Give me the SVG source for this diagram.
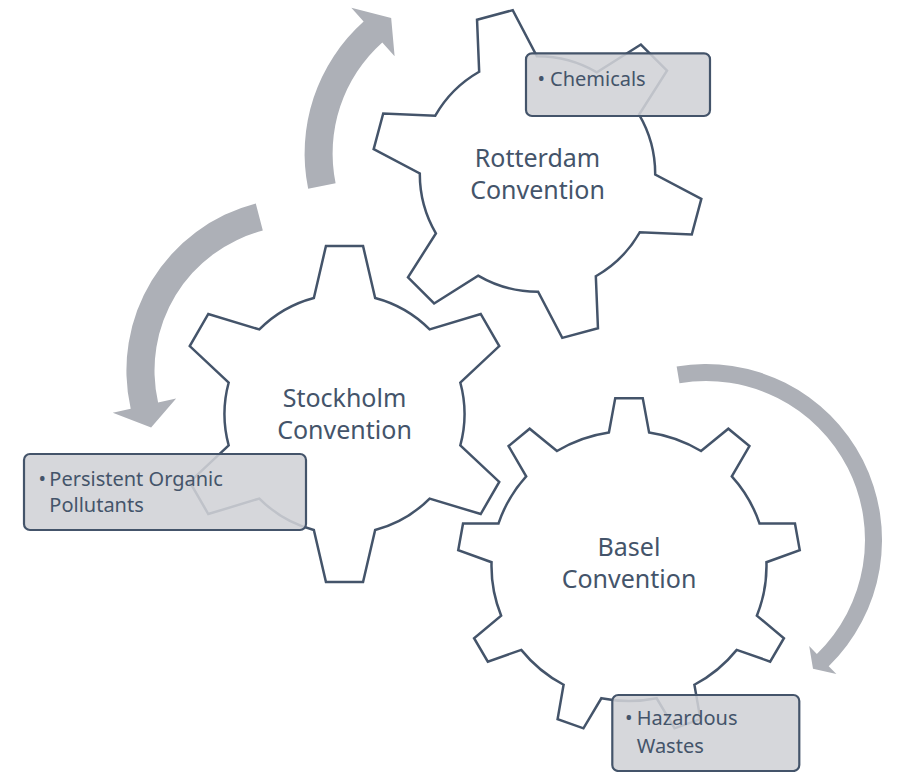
<svg xmlns="http://www.w3.org/2000/svg" width="897" height="772" viewBox="0 0 897 772">
<style>
.gear{fill:#ffffff;stroke:#44546a;stroke-width:2.5;stroke-linejoin:miter}
.arrow{fill:#adb0b7}
.box{fill:#d0d2d6;fill-opacity:0.88;stroke:#44546a;stroke-width:2.2}
.gt{font-family:"Noto Sans","Open Sans",sans-serif;font-size:25px;fill:#44546a;text-anchor:middle}
.lt{font-family:"Noto Sans","Open Sans",sans-serif;font-size:20px;fill:#44546a}
</style>
<rect width="897" height="772" fill="#ffffff"/>
<g id="node-rotterdam">
<path class="gear" d="M 479.18 71.77 L 477.04 19.72 L 512.73 10.16 L 536.89 56.3 A 117.7 117.7 0 0 1 596.88 72.38 L 640.88 44.5 L 667.0 70.62 L 639.12 114.62 A 117.7 117.7 0 0 1 655.2 174.61 L 701.34 198.77 L 691.78 234.46 L 639.73 232.32 A 117.7 117.7 0 0 1 595.82 276.23 L 597.96 328.28 L 562.27 337.84 L 538.11 291.7 A 117.7 117.7 0 0 1 478.12 275.62 L 434.12 303.5 L 408.0 277.38 L 435.88 233.38 A 117.7 117.7 0 0 1 419.8 173.39 L 373.66 149.23 L 383.22 113.54 L 435.27 115.68 A 117.7 117.7 0 0 1 479.18 71.77 Z"/>
<text class="gt" x="537.5" y="167">Rotterdam</text>
<text class="gt" x="537.5" y="199">Convention</text>
</g>
<g id="node-stockholm">
<path class="gear" d="M 313.85 298 L 325.96 246.01 L 363.04 246.01 L 375.15 298 A 120 120 0 0 1 429.65 329.45 L 480.7 313.95 L 499.25 346.08 L 460.3 382.54 A 120 120 0 0 1 460.3 445.46 L 499.25 481.92 L 480.7 514.05 L 429.65 498.55 A 120 120 0 0 1 375.15 530 L 363.04 581.99 L 325.96 581.99 L 313.85 530 A 120 120 0 0 1 259.35 498.55 L 208.3 514.05 L 189.75 481.92 L 228.7 445.46 A 120 120 0 0 1 228.7 382.54 L 189.75 346.08 L 208.3 313.95 L 259.35 329.45 A 120 120 0 0 1 313.85 298 Z"/>
<text class="gt" x="344.5" y="406.7">Stockholm</text>
<text class="gt" x="344.5" y="439">Convention</text>
</g>
<g id="node-basel">
<path class="gear" d="M 608.91 432.44 L 615.25 398.14 L 642.75 398.14 L 649.09 432.44 A 137.5 135 0 0 1 701.05 451.02 L 728.35 428.74 L 749.43 446.10 L 731.82 476.37 A 137.5 135 0 0 1 759.47 523.39 L 794.96 523.55 L 799.75 550.15 L 766.45 562.23 A 137.5 135 0 0 1 756.85 615.69 L 783.92 638.23 L 770.16 661.62 L 736.76 649.85 A 137.5 135 0 0 1 694.40 684.75 L 700.40 719.11 L 674.55 728.35 L 656.65 698.25 A 137.5 135 0 0 1 601.35 698.25 L 583.45 728.35 L 557.60 719.11 L 563.60 684.75 A 137.5 135 0 0 1 521.24 649.85 L 487.84 661.62 L 474.08 638.23 L 501.15 615.69 A 137.5 135 0 0 1 491.55 562.23 L 458.25 550.15 L 463.04 523.55 L 498.53 523.39 A 137.5 135 0 0 1 526.18 476.37 L 508.57 446.10 L 529.65 428.74 L 556.95 451.02 A 137.5 135 0 0 1 608.91 432.44 Z"/>
<text class="gt" x="629" y="555.7">Basel</text>
<text class="gt" x="629" y="587.7">Convention</text>
</g>
<g id="connectors">
<path id="arrow-rotterdam" class="arrow" d="M 308.16 188.79 A 177 177 0 0 1 363.63 21.55 L 351.3 7.75 L 391.17 17.88 L 394.62 56.21 L 382.29 42.42 A 149 149 0 0 0 335.6 183.21 Z"/>
<path id="arrow-stockholm" class="arrow" d="M 255.78 203.4 A 172.6 172.6 0 0 0 130.7 408.73 L 112.76 412.81 L 151.12 427.56 L 176.14 398.41 L 158.1 402.51 A 144.5 144.5 0 0 1 262.82 230.61 Z"/>
<path id="arrow-basel" class="arrow" d="M 676.64 366.46 A 176 176 0 0 1 828.71 666.17 L 836.38 674.06 L 813.0 668.87 L 809.19 646.1 L 816.85 653.99 A 159 159 0 0 0 679.48 383.23 Z"/>
</g>
<g id="label-chemicals">
<rect class="box" x="526" y="53.3" width="184" height="62.7" rx="6"/>
<text class="lt" x="537.5" y="85.5">•<tspan x="550">Chemicals</tspan></text>
</g>
<g id="label-pops">
<rect class="box" x="24" y="454" width="282" height="76" rx="6"/>
<text class="lt" x="38.5" y="485.6">•<tspan x="49.3">Persistent Organic</tspan></text>
<text class="lt" x="49.3" y="512.2">Pollutants</text>
</g>
<g id="label-hazardous">
<rect class="box" x="612.3" y="695" width="187" height="76" rx="6"/>
<text class="lt" x="625" y="725.4">•<tspan x="636.7">Hazardous</tspan></text>
<text class="lt" x="636.7" y="752.7">Wastes</text>
</g>
</svg>
